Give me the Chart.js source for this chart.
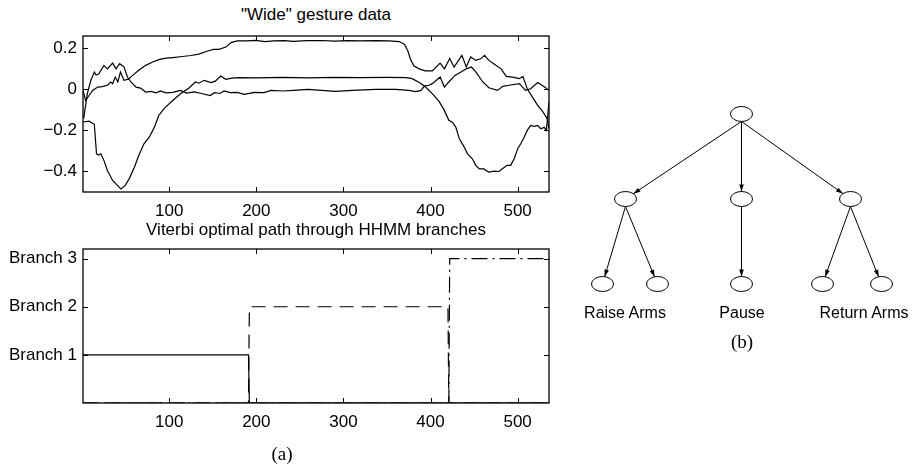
<!DOCTYPE html>
<html lang="en">
<head>
    <meta charset="UTF-8">
    <title>Wide gesture data / HHMM branches</title>
    <script src="https://cdn.jsdelivr.net/npm/chart.js"></script>
    <style>
        body { margin: 0; background: #fff; }
        #page { position: relative; width: 912px; height: 465px; overflow: hidden; background: #fff;
                font-family: 'Liberation Sans', Arial, Helvetica, sans-serif; color: #000; }
        #page canvas { position: absolute; }
        .lbl { position: absolute; white-space: nowrap; line-height: 1; transform: translate(-50%, -50%); }
        .serif { font-family: 'Liberation Serif', 'Times New Roman', serif; font-size: 19px; }
    </style>
</head>
<body>
<div id="page">
    <div class="lbl" style="left:316px; top:14px; font-size:17px;">"Wide" gesture data</div>
    <canvas id="gestureChart" width="560" height="222" style="left:0; top:0;"></canvas>

    <div class="lbl" style="left:316px; top:229px; font-size:17px;">Viterbi optimal path through HHMM branches</div>
    <canvas id="branchChart" width="560" height="235" style="left:0; top:230px;"></canvas>
    <div class="lbl serif" style="left:282px; top:453px;">(a)</div>

    <canvas id="treeChart" width="342" height="280" style="left:570px; top:90px;"></canvas>
    <div class="lbl" style="left:625px; top:313px; font-size:16px;">Raise Arms</div>
    <div class="lbl" style="left:742px; top:313px; font-size:16px;">Pause</div>
    <div class="lbl" style="left:864px; top:313px; font-size:16px;">Return Arms</div>
    <div class="lbl serif" style="left:742px; top:341px;">(b)</div>
</div>

<script>
    // ---- gesture data (three channels) ----
    const wideAx = [1, 4, 8, 12, 18, 23, 29, 33, 35, 38, 41, 44, 48, 53, 58, 65, 73, 81, 88, 96,
        104, 115, 125, 134, 144, 151, 157, 165, 171, 178, 189, 199, 210, 220, 232, 243, 258, 275,
        290, 305, 320, 337, 352, 364, 370, 374, 377, 381, 387, 394, 402, 411, 416, 422, 427, 436,
        441, 446, 452, 458, 462, 467, 475, 481, 487, 494, 502, 506, 509, 511, 517, 523, 529, 534, 536];
    const wideAy = [-0.005, -0.054, -0.03, -0.005, 0.011, 0.013, 0.02, 0.036, 0.028, 0.06, 0.036,
        0.084, 0.044, 0.05, 0.068, 0.093, 0.117, 0.133, 0.145, 0.152, 0.155, 0.16, 0.165, 0.172,
        0.187, 0.195, 0.195, 0.206, 0.228, 0.236, 0.236, 0.239, 0.233, 0.236, 0.237, 0.234, 0.237,
        0.238, 0.235, 0.237, 0.236, 0.237, 0.236, 0.233, 0.22, 0.187, 0.146, 0.114, 0.1, 0.09, 0.09,
        0.128, 0.1, 0.15, 0.109, 0.166, 0.109, 0.158, 0.141, 0.15, 0.166, 0.141, 0.117, 0.1, 0.063,
        0.06, 0.052, 0.063, 0.028, 0.003, -0.038, -0.078, -0.11, -0.143, -0.19];

    const wideBx = [1, 2, 6, 10, 14, 16, 19, 25, 29, 35, 39, 43, 48, 52, 56, 62, 67, 73, 79, 85,
        90, 96, 104, 113, 120, 129, 137, 147, 152, 158, 163, 170, 178, 186, 198, 209, 217, 230, 243,
        259, 275, 291, 310, 337, 360, 375, 383, 389, 393, 398, 402, 411, 416, 421, 428, 435, 441,
        447, 452, 460, 467, 477, 483, 490, 502, 509, 515, 523, 531, 536];
    const wideBy = [-0.13, -0.135, -0.02, 0.044, 0.084, 0.07, 0.075, 0.117, 0.1, 0.128, 0.1, 0.125,
        0.11, 0.06, 0.036, 0.011, 0.006, -0.013, -0.01, -0.017, -0.008, -0.017, -0.015, -0.005,
        -0.018, -0.012, -0.02, -0.03, -0.016, -0.02, -0.008, -0.016, -0.015, -0.024, -0.015, -0.016,
        -0.005, -0.008, -0.005, 0, -0.005, -0.01, -0.005, 0, 0, -0.005, -0.011, -0.005, 0.016, 0.02,
        0.028, 0.06, 0.011, 0.036, 0.068, 0.085, 0.1, 0.109, 0.085, 0.036, 0.008, -0.005, 0.015,
        0.02, 0.028, -0.005, 0.003, 0.033, 0.011, -0.005];

    const wideCx = [1, 8, 14, 16.5, 19, 21.5, 25, 29, 35, 40.5, 44.5, 49.5, 54, 60, 65, 71, 77, 83,
        88, 94, 104, 113, 123, 130, 134, 140, 148, 153, 159, 165, 172, 180, 200, 230, 260, 290, 320,
        350, 372, 379, 387, 393, 402, 410, 415.5, 421, 425, 429, 433, 438.5, 442.5, 448, 452, 456,
        461.5, 463.5, 467, 473, 478.5, 482.5, 488, 492, 496, 500, 503.5, 507.5, 511, 515, 519, 523,
        526.5, 530.5, 533, 536];
    const wideCy = [-0.159, -0.155, -0.17, -0.314, -0.32, -0.314, -0.346, -0.395, -0.444, -0.468,
        -0.485, -0.468, -0.436, -0.379, -0.322, -0.265, -0.233, -0.184, -0.127, -0.094, -0.054,
        -0.021, 0.008, 0.036, 0.03, 0.044, 0.033, 0.04, 0.065, 0.049, 0.055, 0.057, 0.056, 0.058,
        0.056, 0.058, 0.057, 0.058, 0.057, 0.052, 0.033, 0.016, -0.021, -0.06, -0.1, -0.151, -0.16,
        -0.184, -0.24, -0.28, -0.314, -0.338, -0.37, -0.387, -0.387, -0.395, -0.403, -0.398, -0.4,
        -0.387, -0.37, -0.37, -0.338, -0.29, -0.265, -0.233, -0.2, -0.176, -0.18, -0.176, -0.192,
        -0.185, -0.2, -0.06];

    const gestureTicksX = [100, 200, 300, 400, 500];
    const gestureTicksY = [-0.4, -0.2, 0, 0.2];

    // ---- Viterbi path, one indicator per branch ----
    const branch1x = [1, 191, 192, 536];
    const branch1y = [1, 1, 0, 0];
    const branch2x = [1, 191, 192, 420, 421, 536];
    const branch2y = [0, 0, 2, 2, 0, 0];
    const branch3x = [1, 421, 422, 536];
    const branch3y = [0, 0, 3, 3];
    const branchTicks = [1, 2, 3];
    const branchNames = ['Branch 1', 'Branch 2', 'Branch 3'];

    // ---- HHMM tree: nodes and edges ----
    const treeNodeX = [0, -1.0, 0, 0.9397, -1.1983, -0.7241, 0, 0.6983, 1.2069];
    const treeNodeY = [0, 1, 1, 1, 2, 2, 2, 2, 2];
    const treeEdgeFrom = [0, 0, 0, 1, 1, 2, 3, 3];
    const treeEdgeTo = [1, 2, 3, 4, 5, 6, 7, 8];

    const toPoints = (xs, ys) => xs.map((x, i) => ({ x: x, y: ys[i] }));
    const fmtMinus = v => String(Math.round(v * 10) / 10).replace('-', '\u2212');

    // MATLAB style: closed box with tick marks pointing inward on all sides
    const matlabBox = {
        id: 'matlabBox',
        afterDatasetsDraw(chart) {
            const { ctx, chartArea: a, scales } = chart;
            ctx.save();
            ctx.strokeStyle = '#000';
            ctx.lineWidth = 1;
            ctx.beginPath();
            scales.x.ticks.forEach(t => {
                const px = Math.round(scales.x.getPixelForValue(t.value)) + 0.5;
                ctx.moveTo(px, a.bottom); ctx.lineTo(px, a.bottom - 5);
                ctx.moveTo(px, a.top); ctx.lineTo(px, a.top + 5);
            });
            scales.y.ticks.forEach(t => {
                const py = Math.round(scales.y.getPixelForValue(t.value)) + 0.5;
                ctx.moveTo(a.left, py); ctx.lineTo(a.left + 5, py);
                ctx.moveTo(a.right, py); ctx.lineTo(a.right - 5, py);
            });
            ctx.stroke();
            ctx.lineWidth = 1.3;
            ctx.strokeRect(a.left, a.top, a.right - a.left, a.bottom - a.top);
            ctx.restore();
        }
    };

    function axisOptions(xTicks, yMin, yMax, yTicks, yLabel, xHeight) {
        return {
            x: {
                type: 'linear', min: 1, max: 536,
                grid: { display: false, drawTicks: false }, border: { display: false },
                afterBuildTicks: s => { s.ticks = xTicks.map(v => ({ value: v })); },
                afterFit: s => { s.height = xHeight; },
                ticks: { color: '#000', padding: 9, maxRotation: 0,
                         font: { family: 'Liberation Sans', size: 17 }, callback: v => String(v) }
            },
            y: {
                type: 'linear', min: yMin, max: yMax,
                grid: { display: false, drawTicks: false }, border: { display: false },
                afterBuildTicks: s => { s.ticks = yTicks.map(v => ({ value: v })); },
                afterFit: s => { s.width = 83; },
                ticks: { color: '#000', padding: 6,
                         font: { family: 'Liberation Sans', size: 17 }, callback: yLabel }
            }
        };
    }

    function lineSet(xs, ys, dash) {
        return {
            data: toPoints(xs, ys),
            borderColor: '#000', borderWidth: 1.2, borderDash: dash || [],
            pointRadius: 0, tension: 0, fill: false
        };
    }

    const common = {
        responsive: false, animation: false, devicePixelRatio: 1,
        plugins: { legend: { display: false }, tooltip: { enabled: false } }
    };

    new Chart(document.getElementById('gestureChart'), {
        type: 'line',
        data: { datasets: [
            lineSet(wideAx, wideAy),
            lineSet(wideBx, wideBy),
            lineSet(wideCx, wideCy)
        ] },
        options: Object.assign({}, common, {
            layout: { autoPadding: false, padding: { top: 36, right: 11, left: 0, bottom: 0 } },
            scales: axisOptions(gestureTicksX, -0.5, 0.26, gestureTicksY, fmtMinus, 30)
        }),
        plugins: [matlabBox]
    });

    new Chart(document.getElementById('branchChart'), {
        type: 'line',
        data: { datasets: [
            lineSet(branch1x, branch1y),
            lineSet(branch2x, branch2y, [14, 8]),
            lineSet(branch3x, branch3y, [16, 5, 2, 5])
        ] },
        options: Object.assign({}, common, {
            layout: { autoPadding: false, padding: { top: 19, right: 11, left: 0, bottom: 0 } },
            scales: axisOptions(gestureTicksX, 0, 3.2, branchTicks,
                v => branchNames[branchTicks.indexOf(v)], 62)
        }),
        plugins: [matlabBox]
    });

    // ellipse used as node marker (odd width / even height keeps the outline crisp)
    function makeEllipse() {
        const c = document.createElement('canvas');
        c.width = 23;
        c.height = 16;
        const g = c.getContext('2d');
        g.beginPath();
        g.ellipse(11.5, 8, 11, 7.5, 0, 0, Math.PI * 2);
        g.fillStyle = '#fff';
        g.fill();
        g.lineWidth = 1;
        g.strokeStyle = '#000';
        g.stroke();
        return c;
    }

    const nodeRx = 11, nodeRy = 7.5;

    const arrowHeads = {
        id: 'arrowHeads',
        afterDatasetsDraw(chart) {
            const ctx = chart.ctx;
            ctx.save();
            ctx.fillStyle = '#000';
            chart.data.datasets.forEach((ds, i) => {
                if (!ds.isEdge) return;
                const pts = chart.getDatasetMeta(i).data;
                const s = pts[0], e = pts[1];
                const vx = s.x - e.x, vy = s.y - e.y;
                const k = 1 / Math.sqrt((vx / nodeRx) ** 2 + (vy / nodeRy) ** 2);
                const tx = e.x + k * vx, ty = e.y + k * vy;
                const len = Math.hypot(vx, vy);
                const ux = -vx / len, uy = -vy / len;
                ctx.beginPath();
                ctx.moveTo(tx, ty);
                ctx.lineTo(tx - ux * 7 - uy * 2.3, ty - uy * 7 + ux * 2.3);
                ctx.lineTo(tx - ux * 7 + uy * 2.3, ty - uy * 7 - ux * 2.3);
                ctx.closePath();
                ctx.fill();
            });
            ctx.restore();
        }
    };

    const treeSets = [{
        data: toPoints(treeNodeX, treeNodeY),
        pointStyle: makeEllipse(),
        pointRadius: 8, showLine: false
    }];
    treeEdgeFrom.forEach((f, i) => {
        const t = treeEdgeTo[i];
        treeSets.push({
            isEdge: true,
            type: 'line',
            data: [{ x: treeNodeX[f], y: treeNodeY[f] + 0.088 }, { x: treeNodeX[t], y: treeNodeY[t] }],
            borderColor: '#000', borderWidth: 1, pointRadius: 0, tension: 0, fill: false
        });
    });

    new Chart(document.getElementById('treeChart'), {
        type: 'scatter',
        data: { datasets: treeSets },
        options: Object.assign({}, common, {
            layout: { autoPadding: false, padding: 0 },
            scales: {
                x: { type: 'linear', display: false, min: -1.478448, max: 1.469828 },
                y: { type: 'linear', display: false, reverse: true, min: -0.282353, max: 3.011765 }
            }
        }),
        plugins: [arrowHeads]
    });
</script>
</body>
</html>
